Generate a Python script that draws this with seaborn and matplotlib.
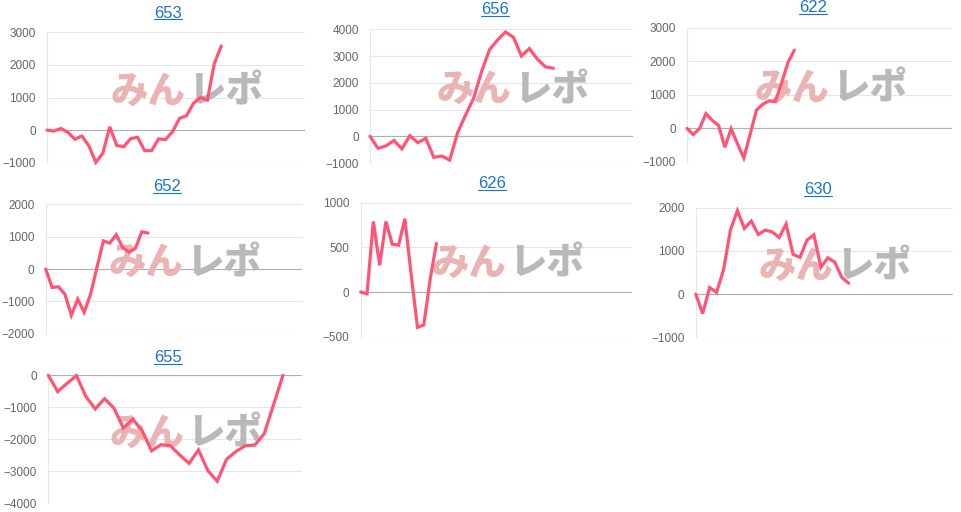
import matplotlib
matplotlib.use("Agg")
import matplotlib.pyplot as plt
import numpy as np
import pandas as pd
import seaborn as sns
from matplotlib.lines import Line2D

# chart ids (titles) and the balance series
chart_ids = ["653", "656", "622", "652", "626", "630", "655"]

s653 = [0, -30, 50, -70, -280, -180, -480, -990, -710, 100, -470, -510, -260,
        -220, -630, -630, -270, -290, -50, 360, 440, 820, 1000, 920, 2050, 2580]
s656 = [0, -450, -360, -160, -470, 20, -240, -80, -790, -740, -890, 140, 800,
        1420, 2420, 3240, 3600, 3900, 3700, 3000, 3280, 2880, 2600, 2540]
s622 = [0, -180, 0, 440, 240, 90, -560, -10, -460, -880, -180, 540, 720, 820,
        800, 1360, 1960, 2330]
s652 = [0, -570, -550, -780, -1430, -930, -1340, -780, 50, 870, 800, 1060, 670,
        520, 640, 1150, 1110]
s626 = [0, -20, 790, 300, 790, 535, 525, 820, 195, -395, -370, 140, 545]
s630 = [0, -450, 150, 40, 560, 1490, 1930, 1520, 1690, 1380, 1480, 1440, 1310,
        1620, 920, 850, 1250, 1370, 620, 840, 740, 390, 250]
s655 = [0, -510, -250, -10, -660, -1050, -730, -1030, -1650, -1370, -1730, -2360,
        -2170, -2200, -2490, -2750, -2330, -2980, -3310, -2620, -2380, -2200,
        -2180, -1830, -920, 0]
series = [s653, s656, s622, s652, s626, s630, s655]

# x range of each small chart and y axis (min, max, step)
x_max = [37, 33, 42, 40, 43, 37, 27]
y_axes = [(-1000, 3000, 1000), (-1000, 4000, 1000), (-1000, 3000, 1000),
          (-2000, 2000, 1000), (-500, 1000, 500), (-1000, 2000, 1000),
          (-4000, 0, 1000)]

W, H = 961, 512
# plot areas in pixels: left, top, right, bottom
rects = [(47, 32.3, 305, 162.7), (370, 29.3, 633, 163), (687, 27.7, 952, 162),
         (45.7, 204.3, 302, 333.7), (360.7, 202.7, 632, 336.7),
         (695.7, 207.7, 953, 337.3), (48.3, 375.3, 301.7, 503.3)]
title_pos = [(168, 13), (495, 10), (813, 8), (167, 186.5), (492, 184),
             (818, 190), (168, 357.5)]

LINE = "#ff5473"
GRID = "#e6e6e6"
ZERO = "#b0b0b0"
TICK = "#666666"
LINK = "#1a73d1"

sns.set_theme(style="white")
plt.rcParams["font.family"] = ["Liberation Sans", "Noto Sans CJK JP", "DejaVu Sans"]

fig = plt.figure(figsize=(W / 100, H / 100), dpi=100)

titles = []
for cid, vals, xm, (lo, hi, step), (l, t, r, b), (tx, ty) in zip(
        chart_ids, series, x_max, y_axes, rects, title_pos):
    ax = fig.add_axes([l / W, 1 - b / H, (r - l) / W, (b - t) / H])
    df = pd.DataFrame({"x": np.arange(len(vals)), "y": vals})
    sns.lineplot(data=df, x="x", y="y", ax=ax, color=LINE, lw=2.3,
                 solid_joinstyle="miter", zorder=4, clip_on=False)
    ax.set_xlim(0, xm)
    ax.set_ylim(lo, hi)
    ax.set_yticks(np.arange(lo, hi + step, step))
    ax.set_xticks([])
    ax.set_xlabel("")
    ax.set_ylabel("")
    ax.set_axisbelow(True)
    ax.grid(axis="y", color=GRID, lw=0.8)
    ax.axhline(0, color=ZERO, lw=0.8, zorder=1)
    for side in ["top", "right", "bottom"]:
        ax.spines[side].set_visible(False)
    ax.spines["left"].set_color(GRID)
    ax.spines["left"].set_linewidth(0.8)
    ax.tick_params(axis="y", length=0, pad=8, labelsize=8.5, labelcolor=TICK)
    ax.patch.set_alpha(0)

    # watermark
    ax.text(0.537, 0.545, "みん", transform=ax.transAxes, ha="right", va="center",
            fontsize=27, fontweight="heavy", color="#ebb4b4",
            family=["Noto Sans CJK JP"], zorder=2)
    ax.text(0.547, 0.545, "レポ", transform=ax.transAxes, ha="left", va="center",
            fontsize=27, fontweight="heavy", color="#b9b9b9",
            family=["Noto Sans CJK JP"], zorder=2)

    titles.append(fig.text(tx / W, 1 - ty / H, cid, ha="center", va="center",
                           fontsize=12, color=LINK))

# underline the titles like links
fig.canvas.draw()
renderer = fig.canvas.get_renderer()
for t in titles:
    bb = t.get_window_extent(renderer)
    y = bb.y0 + 1.5
    fig.add_artist(Line2D([bb.x0 / W, bb.x1 / W], [y / H, y / H],
                          transform=fig.transFigure, color=LINK, lw=0.8))

fig.savefig("out.png", dpi=100)
